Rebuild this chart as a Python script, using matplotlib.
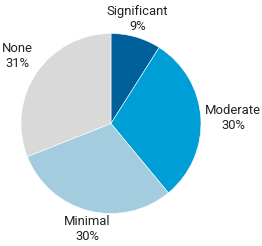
import numpy as np
import matplotlib.pyplot as plt

labels = ["Significant", "Moderate", "Minimal", "None"]
shares = [9, 30, 30, 31]
colors = ["#00609A", "#009ED6", "#A3CDDF", "#D9D9D9"]

plt.rcParams['font.family'] = ['Roboto', 'DejaVu Sans']

fig = plt.figure(figsize=(2.62, 2.46), dpi=100)
ax = fig.add_axes([0, 0, 1, 1])

wedges, _ = ax.pie(shares, colors=colors, startangle=90, counterclock=False,
                   radius=1.0, wedgeprops=dict(edgecolor='white', linewidth=0.4))

# labels sit just outside the rim, anchored on the side facing the slice
for w, lab, val in zip(wedges, labels, shares):
    ang = np.deg2rad((w.theta1 + w.theta2) / 2)
    c, s = np.cos(ang), np.sin(ang)
    ha = 'left' if c > 0.3 else ('right' if c < -0.3 else 'center')
    va = 'bottom' if s > 0.3 else ('top' if s < -0.3 else 'center')
    ax.text(1.05 * c, 1.05 * s, f"{lab}\n{val}%", ha=ha, va=va,
            multialignment='center', fontsize=9.4, color='#222222',
            linespacing=1.2)

ax.set_xlim(-1.233, 1.678)
ax.set_ylim(-1.361, 1.372)
ax.set_aspect('auto')
ax.axis('off')

fig.savefig('out.png', dpi=100)
